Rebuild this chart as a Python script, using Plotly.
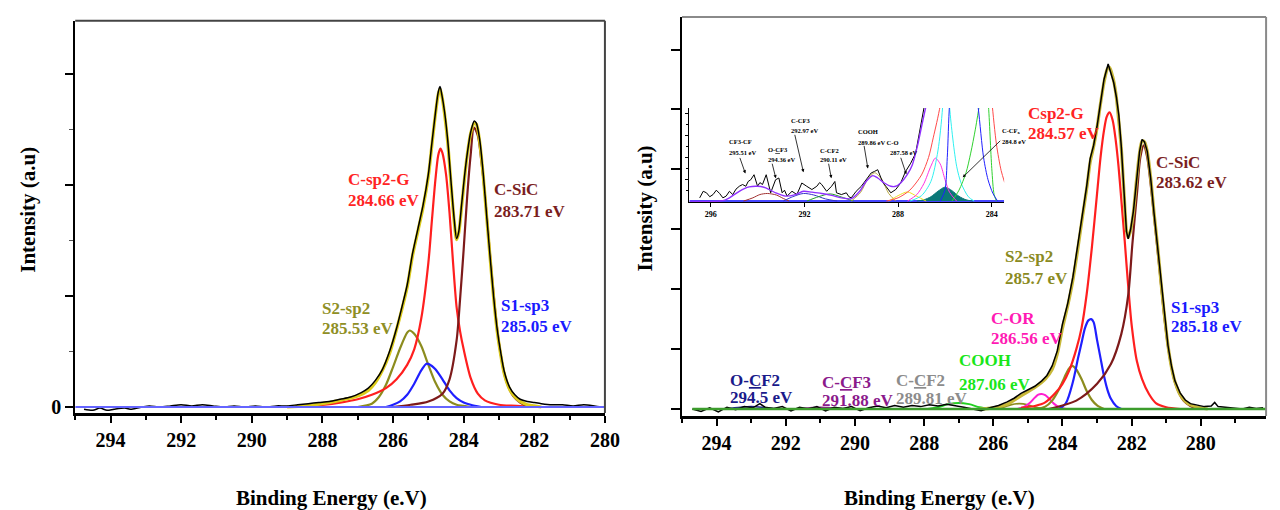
import plotly.graph_objects as go

W, H = 1280, 510
FONT = "Liberation Serif"

# ================= LEFT PANEL (units: 1 = one y tick) =================
L_DATA_X = [294.75, 294.5, 294.3, 294.1, 293.9, 293.6, 293.4, 293.1, 292.9, 292.6, 292.3, 292.0, 291.7,
            291.4, 291.1, 290.8, 290.5, 290.2, 289.9, 289.6, 289.3, 289.0, 288.7, 288.4, 288.1, 287.8,
            287.5, 287.2, 286.9, 286.7, 286.5, 286.3, 286.1, 285.9, 285.75, 285.6, 285.45, 285.3, 285.15,
            285.0, 284.9, 284.8, 284.72, 284.67, 284.62, 284.54, 284.45, 284.35, 284.27, 284.2, 284.14,
            284.06, 283.98, 283.9, 283.8, 283.7, 283.64, 283.55, 283.45, 283.35, 283.25, 283.15, 283.05,
            282.95, 282.85, 282.7, 282.55, 282.4, 282.2, 282.0, 281.8, 281.5, 281.2, 280.9, 280.6, 280.3, 280.1]
L_DATA_Y = [-0.02, -0.03, -0.01, -0.03, -0.02, -0.01, -0.02, 0.0, 0.01, 0.0, 0.01, 0.02, 0.01,
            0.02, 0.01, 0.0, 0.01, 0.0, 0.01, 0.0, 0.01, 0.01, 0.02, 0.03, 0.04, 0.05,
            0.07, 0.09, 0.13, 0.17, 0.24, 0.34, 0.5, 0.71, 0.9, 1.1, 1.38, 1.6, 1.82,
            2.1, 2.38, 2.65, 2.84, 2.89, 2.82, 2.66, 2.4, 2.0, 1.7, 1.52, 1.58,
            1.82, 2.07, 2.28, 2.48, 2.58, 2.56, 2.42, 2.12, 1.73, 1.35, 0.99, 0.7,
            0.49, 0.32, 0.18, 0.11, 0.07, 0.05, 0.04, 0.03, 0.02, 0.02, 0.01, 0.02, 0.01, 0.0]

L_ENV_X = [289.0, 288.5, 288.0, 287.5, 287.0, 286.7, 286.5, 286.3, 286.1, 285.9, 285.75, 285.6, 285.45,
           285.3, 285.15, 285.0, 284.9, 284.8, 284.72, 284.67, 284.62, 284.54, 284.45, 284.35, 284.27,
           284.2, 284.14, 284.06, 283.98, 283.9, 283.8, 283.7, 283.64, 283.55, 283.45, 283.35, 283.25,
           283.15, 283.05, 282.95, 282.85, 282.7, 282.55, 282.4, 282.2, 282.0, 281.8]
L_ENV_Y = [0.0, 0.01, 0.03, 0.06, 0.1, 0.15, 0.22, 0.33, 0.48, 0.7, 0.88, 1.08, 1.36,
           1.58, 1.8, 2.08, 2.36, 2.64, 2.82, 2.87, 2.81, 2.64, 2.38, 1.98, 1.68,
           1.51, 1.57, 1.8, 2.05, 2.27, 2.47, 2.56, 2.55, 2.4, 2.1, 1.72, 1.34,
           0.98, 0.68, 0.47, 0.3, 0.16, 0.09, 0.05, 0.02, 0.01, 0.0]

L_CSP2G_X = [288.8, 288.0, 287.5, 287.0, 286.6, 286.2, 285.9, 285.6, 285.4, 285.2, 285.0, 284.9, 284.8,
             284.72, 284.66, 284.6, 284.5, 284.4, 284.3, 284.2, 284.1, 284.0, 283.8, 283.6, 283.4, 283.0,
             282.5, 282.0]
L_CSP2G_Y = [0.0, 0.02, 0.04, 0.07, 0.11, 0.17, 0.25, 0.38, 0.52, 0.8, 1.3, 1.68, 2.05,
             2.27, 2.33, 2.29, 2.1, 1.75, 1.3, 0.9, 0.68, 0.52, 0.26, 0.12, 0.06, 0.02,
             0.01, 0.0]

L_CSIC_X = [286.0, 285.5, 285.0, 284.6, 284.4, 284.2, 284.1, 284.0, 283.9, 283.8, 283.71, 283.6, 283.5,
            283.4, 283.3, 283.2, 283.1, 283.0, 282.9, 282.8, 282.6, 282.4, 282.2, 282.0]
L_CSIC_Y = [0.0, 0.02, 0.05, 0.12, 0.25, 0.6, 0.98, 1.42, 1.9, 2.28, 2.52, 2.45, 2.22,
            1.92, 1.55, 1.18, 0.85, 0.58, 0.38, 0.24, 0.1, 0.04, 0.01, 0.0]

L_S2SP2_X = [287.0, 286.6, 286.4, 286.2, 286.0, 285.8, 285.6, 285.53, 285.4, 285.2, 285.0, 284.8, 284.6,
             284.4, 284.2, 284.0, 283.8]
L_S2SP2_Y = [0.0, 0.03, 0.09, 0.2, 0.36, 0.53, 0.67, 0.69, 0.66, 0.55, 0.38, 0.22, 0.11,
             0.05, 0.02, 0.01, 0.0]

L_S1SP3_X = [286.2, 286.0, 285.8, 285.6, 285.4, 285.2, 285.05, 284.9, 284.8, 284.6, 284.4, 284.2, 284.0,
             283.8, 283.5]
L_S1SP3_Y = [0.0, 0.02, 0.05, 0.11, 0.21, 0.33, 0.39, 0.37, 0.34, 0.25, 0.15, 0.08, 0.04,
             0.02, 0.0]

L_BASE_X = [295.0, 280.0]
L_BASE_Y = [0.0, 0.0]
L_BG_X = [287.2, 282.2]
L_BG_Y = [0.0, 0.0]

L_TICKS = [294, 292, 290, 288, 286, 284, 282, 280]

# ================= RIGHT PANEL =================
R_DATA_X = [294.7, 294.45, 294.2, 293.95, 293.7, 293.45, 293.2, 292.95, 292.75, 292.6, 292.35, 292.1,
            291.85, 291.6, 291.35, 291.1, 290.85, 290.6, 290.35, 290.1, 289.85, 289.6, 289.35, 289.1,
            288.85, 288.6, 288.35, 288.1, 287.85, 287.6, 287.35, 287.1, 286.85, 286.6, 286.35, 286.1,
            285.85, 285.6, 285.4, 285.2, 285.0, 284.8, 284.6, 284.45, 284.3, 284.15, 284.0, 283.85,
            283.7, 283.55, 283.42, 283.3, 283.2, 283.1, 283.0, 282.9, 282.8, 282.68, 282.6, 282.52,
            282.44, 282.37, 282.3, 282.22, 282.15, 282.1, 282.03, 281.95, 281.86, 281.77, 281.7, 281.63,
            281.55, 281.45, 281.35, 281.25, 281.15, 281.05, 280.95, 280.85, 280.75, 280.6, 280.45, 280.3,
            280.1, 279.9, 279.7, 279.6, 279.5, 279.3, 279.0, 278.8, 278.6, 278.4, 278.2]
R_DATA_Y = [0.0, -0.04, 0.02, -0.05, 0.03, -0.01, 0.04, 0.02, 0.09, 0.03, 0.01, 0.04,
            -0.03, 0.03, 0.0, 0.04, -0.03, 0.03, 0.01, 0.04, -0.03, 0.02, 0.05, 0.02,
            0.06, 0.03, 0.06, 0.04, 0.07, 0.05, 0.08, 0.06, 0.03, 0.0, -0.03, 0.02,
            0.06, 0.12, 0.18, 0.26, 0.32, 0.38, 0.47, 0.56, 0.72, 0.97, 1.42, 1.76,
            2.2, 2.76, 3.26, 3.72, 4.18, 4.4, 4.72, 5.14, 5.5, 5.76, 5.62, 5.45,
            5.2, 4.9, 4.38, 3.62, 2.96, 2.84, 3.0, 3.3, 3.86, 4.3, 4.5, 4.46,
            4.3, 3.85, 3.25, 2.72, 2.1, 1.55, 1.06, 0.72, 0.47, 0.27, 0.15, 0.09,
            0.06, 0.04, 0.05, 0.11, 0.04, 0.03, 0.02, 0.0, 0.03, 0.01, 0.02]

R_ENV_X = [286.4, 286.0, 285.6, 285.2, 284.8, 284.5, 284.3, 284.15, 284.0, 283.85, 283.7, 283.55, 283.42,
           283.3, 283.2, 283.1, 283.0, 282.9, 282.8, 282.7, 282.64, 282.55, 282.46, 282.38, 282.3, 282.22,
           282.15, 282.1, 282.03, 281.95, 281.86, 281.77, 281.7, 281.63, 281.55, 281.45, 281.35, 281.25,
           281.15, 281.05, 280.95, 280.85, 280.75, 280.6, 280.45, 280.3, 280.1, 279.8]
R_ENV_Y = [0.0, 0.02, 0.08, 0.22, 0.36, 0.5, 0.66, 0.92, 1.35, 1.72, 2.15, 2.7, 3.22,
           3.68, 4.12, 4.38, 4.7, 5.1, 5.45, 5.68, 5.7, 5.55, 5.28, 4.85, 4.35, 3.6,
           2.98, 2.86, 2.98, 3.28, 3.82, 4.28, 4.47, 4.46, 4.3, 3.86, 3.26, 2.72,
           2.1, 1.55, 1.06, 0.7, 0.46, 0.24, 0.13, 0.07, 0.03, 0.0]

R_CSP2G_X = [285.2, 284.8, 284.5, 284.2, 284.0, 283.8, 283.6, 283.45, 283.3, 283.15, 283.0, 282.9, 282.8,
             282.72, 282.64, 282.55, 282.46, 282.38, 282.3, 282.2, 282.1, 282.0, 281.85, 281.7, 281.5,
             281.3, 281.0, 280.6]
R_CSP2G_Y = [0.02, 0.05, 0.11, 0.27, 0.42, 0.65, 1.0, 1.35, 1.92, 2.7, 3.6, 4.2, 4.65,
             4.88, 4.95, 4.82, 4.48, 4.05, 3.5, 2.8, 2.05, 1.4, 0.8, 0.5, 0.25,
             0.1, 0.03, 0.0]

R_CSIC_X = [284.4, 283.6, 283.0, 282.6, 282.3, 282.1, 281.98, 281.84, 281.75, 281.65, 281.55, 281.45,
            281.35, 281.2, 281.05, 280.93, 280.75, 280.5, 280.3, 280.1]
R_CSIC_Y = [0.0, 0.14, 0.42, 0.75, 1.25, 1.9, 2.75, 3.64, 4.2, 4.4, 4.2, 3.75,
            3.2, 2.36, 1.5, 0.97, 0.45, 0.14, 0.05, 0.0]

R_S1SP3_X = [284.1, 283.9, 283.7, 283.55, 283.45, 283.35, 283.25, 283.17, 283.1, 283.0, 282.9, 282.8,
             282.7, 282.6, 282.45, 282.3]
R_S1SP3_Y = [0.0, 0.1, 0.45, 0.85, 1.1, 1.35, 1.48, 1.5, 1.45, 1.15, 0.85, 0.55,
             0.32, 0.17, 0.05, 0.0]

R_S2SP2_X = [284.8, 284.5, 284.3, 284.1, 283.95, 283.82, 283.72, 283.6, 283.45, 283.3, 283.15, 283.0, 282.8]
R_S2SP2_Y = [0.0, 0.04, 0.14, 0.33, 0.52, 0.67, 0.72, 0.66, 0.5, 0.3, 0.15, 0.06, 0.0]

R_COR_X = [285.3, 285.1, 284.95, 284.8, 284.7, 284.6, 284.5, 284.4, 284.25, 284.1, 283.9]
R_COR_Y = [0.0, 0.04, 0.1, 0.19, 0.24, 0.25, 0.23, 0.18, 0.09, 0.03, 0.0]

R_SMALL_X = [286.0, 285.7, 285.5, 285.25, 285.0, 284.8, 284.5]
R_SMALL_Y = [0.0, 0.03, 0.07, 0.09, 0.07, 0.03, 0.0]

R_COOH_X = [287.9, 287.6, 287.3, 287.0, 286.7, 286.4, 286.1]
R_COOH_Y = [0.0, 0.03, 0.08, 0.1, 0.08, 0.03, 0.0]

R_OCF2_X = [293.8, 293.3, 293.0, 292.7, 292.2]
R_OCF2_Y = [0.0, 0.03, 0.04, 0.03, 0.0]
R_CCF3_X = [291.8, 291.3, 291.0, 290.7, 290.2]
R_CCF3_Y = [0.0, 0.02, 0.03, 0.02, 0.0]

R_BASE_X = [294.7, 278.1]
R_BASE_Y = [0.0, 0.0]

R_TICKS = [294, 292, 290, 288, 286, 284, 282, 280]

# ================= INSET =================
I_DATA_X = [296.47, 296.32, 296.18, 296.04, 295.90, 295.76, 295.62, 295.48, 295.34, 295.2, 295.06, 294.92,
            294.78, 294.64, 294.5, 294.4, 294.29, 294.15, 294.0, 293.9, 293.79, 293.63, 293.44, 293.33,
            293.23, 293.09, 292.95, 292.85, 292.74, 292.53, 292.32, 292.2, 292.11, 291.9, 291.68, 291.47,
            291.35, 291.26, 291.05, 290.84, 290.7, 290.63, 290.42, 290.21, 290.1, 290.0, 289.79, 289.57,
            289.36, 289.15, 289.01, 288.87, 288.73, 288.62, 288.52, 288.31, 288.1, 287.89, 287.68, 287.46,
            287.25, 287.04, 286.83, 286.6]
I_DATA_Y = [0.15, 0.45, 0.38, 0.2, 0.30, 0.5, 0.35, 0.15, 0.23, 0.45, 0.30, 0.55,
            0.68, 0.76, 0.68, 0.9, 0.98, 1.21, 0.68, 0.85, 0.76, 1.21, 0.38, 0.75,
            0.98, 1.06, 0.38, 0.5, 0.23, 0.45, 0.30, 0.6, 0.83, 0.68, 0.53, 0.68,
            0.85, 0.76, 0.45, 0.68, 0.9, 0.38, 0.30, 0.38, 0.2, 0.15, 0.45, 0.68,
            0.98, 1.29, 1.36, 1.44, 1.06, 0.8, 0.68, 0.38, 0.53, 0.83, 1.36, 1.74,
            2.20, 3.56, 4.6, 6.0]

I_ENV_X = [296.89, 295.48, 295.2, 294.78, 294.36, 294.0, 293.65, 293.23, 292.81, 292.39, 292.04, 291.68,
           291.26, 290.84, 290.42, 290.0, 289.64, 289.36, 289.08, 288.87, 288.59, 288.31, 288.1, 287.89,
           287.61, 287.39, 287.18, 286.97, 286.76]
I_ENV_Y = [0.0, 0.02, 0.15, 0.45, 0.65, 0.68, 0.61, 0.38, 0.23, 0.30, 0.45, 0.41,
           0.35, 0.26, 0.15, 0.11, 0.45, 0.91, 1.17, 1.06, 0.83, 0.68, 0.68, 0.83,
           1.21, 1.67, 2.50, 3.56, 4.6]

I_CF3CF_X = [294.6, 294.2, 293.9, 293.58, 293.2, 292.9, 292.65]
I_CF3CF_Y = [0.0, 0.15, 0.3, 0.35, 0.28, 0.12, 0.0]
I_CCF3_X = [292.9, 292.5, 292.04, 291.6, 291.1, 290.6]
I_CCF3_Y = [0.0, 0.2, 0.35, 0.28, 0.1, 0.0]
I_CCF2_X = [291.9, 291.4, 290.9, 290.4, 289.9]
I_CCF2_Y = [0.0, 0.2, 0.33, 0.18, 0.0]
I_COOH_X = [290.0, 289.6, 289.3, 289.0, 288.7, 288.4, 288.1]
I_COOH_Y = [0.0, 0.4, 1.0, 1.3, 1.0, 0.35, 0.0]
I_CO_X = [288.4, 288.0, 287.6, 287.2, 286.8]
I_CO_Y = [0.0, 0.25, 0.42, 0.22, 0.0]
I_CSP2_X = [288.5, 288.0, 287.5, 287.0, 286.7, 286.5, 286.2, 285.8, 285.0, 284.3, 284.0, 283.8, 283.6, 283.45]
I_CSP2_Y = [0.0, 0.15, 0.5, 1.2, 2.0, 2.9, 4.4, 8.0, 20.0, 8.0, 4.6, 2.6, 1.4, 0.85]
I_COR_X = [287.6, 287.2, 286.9, 286.6, 286.41, 286.2, 286.0, 285.8, 285.5]
I_COR_Y = [0.0, 0.3, 0.8, 1.6, 1.97, 1.7, 1.0, 0.4, 0.0]
I_CYAN_X = [287.5, 287.0, 286.6, 286.3, 286.1, 285.95, 285.8, 285.5, 285.3, 285.0, 284.75]
I_CYAN_Y = [0.0, 0.25, 0.9, 2.3, 4.3, 8.0, 4.3, 1.6, 0.8, 0.2, 0.0]
I_GREEN_X = [285.7, 285.4, 285.1, 284.9, 284.7, 284.5, 284.3, 284.15, 284.0, 283.9, 283.8]
I_GREEN_Y = [0.0, 0.5, 1.3, 2.2, 3.3, 4.6, 6.0, 4.5, 1.5, 0.3, 0.0]
I_BLUE_X = [286.2, 286.0, 285.9, 285.8, 285.5, 285.2, 284.9, 284.58, 284.35, 284.16, 283.95, 283.75]
I_BLUE_Y = [0.0, 0.5, 2.0, 4.5, 8.0, 9.0, 7.0, 4.3, 2.0, 0.98, 0.35, 0.0]
I_CCFX_X = [287.2, 286.9, 286.6, 286.3, 286.0, 285.7, 285.4, 285.1, 284.8]
I_CCFX_Y = [0.0, 0.06, 0.2, 0.45, 0.64, 0.48, 0.22, 0.06, 0.0]
I_BASE_X = [296.9, 283.47]
I_BASE_Y = [0.0, 0.0]
I_TICKS = [296, 292, 288, 284]

# inset arrow heads (data coords of the inset) for each label
I_ARROW_X = [294.52, 293.22, 292.04, 290.85, 289.29, 287.65, 285.24]
I_ARROW_Y = [1.27, 1.05, 1.32, 1.05, 1.5, 1.23, 1.09]

# ---------------- sanity ----------------
for a, b in [(L_DATA_X, L_DATA_Y), (L_ENV_X, L_ENV_Y), (L_CSP2G_X, L_CSP2G_Y), (L_CSIC_X, L_CSIC_Y),
             (L_S2SP2_X, L_S2SP2_Y), (L_S1SP3_X, L_S1SP3_Y), (R_DATA_X, R_DATA_Y), (R_ENV_X, R_ENV_Y),
             (R_CSP2G_X, R_CSP2G_Y), (R_CSIC_X, R_CSIC_Y), (R_S1SP3_X, R_S1SP3_Y), (R_S2SP2_X, R_S2SP2_Y),
             (R_COR_X, R_COR_Y), (R_SMALL_X, R_SMALL_Y), (R_COOH_X, R_COOH_Y), (I_DATA_X, I_DATA_Y),
             (I_ENV_X, I_ENV_Y), (I_CSP2_X, I_CSP2_Y), (I_COR_X, I_COR_Y), (I_CYAN_X, I_CYAN_Y),
             (I_GREEN_X, I_GREEN_Y), (I_BLUE_X, I_BLUE_Y), (I_CCFX_X, I_CCFX_Y)]:
    assert len(a) == len(b), (len(a), len(b))

fig = go.Figure()


def line(x, y, color, width, ax="", shape="spline", fill=None, fillcolor=None):
    fig.add_trace(go.Scatter(
        x=x, y=y, mode="lines", xaxis="x" + ax, yaxis="y" + ax,
        line=dict(color=color, width=width, shape=shape, smoothing=0.8 if shape == "spline" else None),
        fill=fill, fillcolor=fillcolor, hoverinfo="skip", showlegend=False))


RED = "#ff1f1f"
DRED = "#7d1a1a"
OLIVE = "#8c8c1e"
BLUE = "#1f1fff"
ENV = "#dccb1c"

# left panel
line(L_BG_X, L_BG_Y, "#ff40ff", 1.5, shape="linear")
line(L_S2SP2_X, L_S2SP2_Y, OLIVE, 2.2)
line(L_S1SP3_X, L_S1SP3_Y, BLUE, 2.2)
line(L_CSP2G_X, L_CSP2G_Y, RED, 2.2)
line(L_CSIC_X, L_CSIC_Y, DRED, 2.2)
line(L_ENV_X, L_ENV_Y, ENV, 3.2)
line(L_DATA_X, L_DATA_Y, "black", 1.5)
line(L_BASE_X, L_BASE_Y, "#6464ff", 1.8, shape="linear")

# right panel
line(R_OCF2_X, R_OCF2_Y, "#1a1a8c", 1.5, ax="2")
line(R_CCF3_X, R_CCF3_Y, "#8b1a8b", 1.5, ax="2")
line(R_SMALL_X, R_SMALL_Y, OLIVE, 1.8, ax="2")
line(R_COOH_X, R_COOH_Y, "#22d022", 1.8, ax="2")
line(R_COR_X, R_COR_Y, "#ff1fd0", 2.0, ax="2")
line(R_S2SP2_X, R_S2SP2_Y, OLIVE, 2.2, ax="2")
line(R_S1SP3_X, R_S1SP3_Y, BLUE, 2.2, ax="2")
line(R_CSP2G_X, R_CSP2G_Y, RED, 2.2, ax="2")
line(R_CSIC_X, R_CSIC_Y, DRED, 2.2, ax="2")
line(R_ENV_X, R_ENV_Y, "#c8b838", 3.2, ax="2")
line(R_DATA_X, R_DATA_Y, "black", 1.5, ax="2", shape="linear")
line(R_BASE_X, R_BASE_Y, "#3c9c2c", 2.6, ax="2", shape="linear")

# inset
line(I_BASE_X, I_BASE_Y, "#4646ff", 2.0, ax="3", shape="linear")
line(I_CCFX_X, I_CCFX_Y, "#0a7878", 1.0, ax="3", fill="tozeroy", fillcolor="#0a7878")
line(I_CF3CF_X, I_CF3CF_Y, "#a03030", 1.0, ax="3")
line(I_CCF3_X, I_CCF3_Y, "#3535c8", 1.0, ax="3")
line(I_CCF2_X, I_CCF2_Y, "#22a022", 1.0, ax="3")
line(I_COOH_X, I_COOH_Y, "#b8a640", 1.0, ax="3")
line(I_CO_X, I_CO_Y, "#f0e020", 1.0, ax="3")
line(I_CSP2_X, I_CSP2_Y, "#ff4a4a", 1.0, ax="3")
line(I_COR_X, I_COR_Y, "#ff30e0", 1.0, ax="3")
line(I_CYAN_X, I_CYAN_Y, "#30f0f0", 1.0, ax="3")
line(I_GREEN_X, I_GREEN_Y, "#30d030", 1.0, ax="3")
line(I_BLUE_X, I_BLUE_Y, "#2020ff", 1.0, ax="3")
line(I_DATA_X, I_DATA_Y, "black", 1.0, ax="3", shape="linear")
line(I_ENV_X, I_ENV_Y, "#9030ff", 1.4, ax="3")

TICKFONT = dict(family=FONT, size=20, color="black")


def xax(domain, rng, anchor, ticks):
    return dict(domain=domain, range=rng, anchor=anchor, tickmode="array", tickvals=ticks,
                ticktext=["<b>%d</b>" % t for t in ticks],
                ticks="outside", ticklen=7, tickwidth=1.5, tickcolor="black",
                minor=dict(tickmode="linear", tick0=0, dtick=1, ticks="outside", ticklen=4,
                           tickwidth=1.5, tickcolor="black"),
                showline=True, linewidth=3, linecolor="black", showgrid=False, zeroline=False,
                tickfont=TICKFONT, ticklabelstandoff=0)


layout = dict(
    width=W, height=H, margin=dict(l=0, r=0, t=0, b=0),
    paper_bgcolor="white", plot_bgcolor="white",
    xaxis=xax([68 / W, 604 / W], [295, 280], "y", L_TICKS),
    xaxis2=xax([682 / W, 1273 / W], [295, 278.114], "y2", R_TICKS),
    yaxis=dict(domain=[1 - 409 / H, 1 - 13 / H], range=[-0.054, 3.482], anchor="x",
               tickmode="array", tickvals=[0, 1, 2, 3], ticktext=["<b>0</b>", "", "", ""],
               ticks="outside", ticklen=8, tickwidth=1.5, tickcolor="black",
               minor=dict(tickmode="array", tickvals=[0.5, 1.5, 2.5], ticks="outside", ticklen=4,
                          tickwidth=1, tickcolor="#555"),
               showline=True, linewidth=2, linecolor="black", showgrid=False, zeroline=False,
               tickfont=TICKFONT),
    yaxis2=dict(domain=[1 - 412 / H, 1 - 9 / H], range=[-0.116, 6.545], anchor="x2",
                tickmode="array", tickvals=[0, 1, 2, 3, 4, 5, 6], showticklabels=False,
                ticks="outside", ticklen=9, tickwidth=1.5, tickcolor="black",
                showline=True, linewidth=2, linecolor="black", showgrid=False, zeroline=False),
    xaxis3=dict(domain=[689 / W, 1008 / W], range=[296.93, 283.47], anchor="y3",
                tickmode="array", tickvals=I_TICKS, ticktext=["<b>%d</b>" % t for t in I_TICKS],
                ticks="outside", ticklen=4,
                tickwidth=1, tickcolor="black", showline=True, linewidth=1, linecolor="black",
                showgrid=False, zeroline=False,
                tickfont=dict(family=FONT, size=8, color="black")),
    yaxis3=dict(domain=[1 - 196 / H, 1 - 101 / H], range=[-0.045, 4.27], anchor="x3",
                tickmode="array", tickvals=[1, 2, 3, 4], showticklabels=False,
                ticks="outside", ticklen=3, tickwidth=1, tickcolor="black",
                minor=dict(tickmode="array", tickvals=[0.5, 1.5, 2.5, 3.5], ticks="outside",
                           ticklen=2, tickwidth=1, tickcolor="black"),
                showline=True, linewidth=1, linecolor="black", showgrid=False, zeroline=False),
)
fig.update_layout(**layout)

# frame lines (top / right)
for xr, yr, col in [("x domain", "y domain", "#444444"), ("x2 domain", "y2 domain", "#8a8a8a")]:
    fig.add_shape(type="line", xref=xr, yref=yr, x0=0, x1=1, y0=1, y1=1, line=dict(color=col, width=2))
    fig.add_shape(type="line", xref=xr, yref=yr, x0=1, x1=1, y0=0, y1=1, line=dict(color=col, width=2))


def txt(text, px, py, color, size=17, xanchor="left", angle=0):
    fig.add_annotation(text="<b>" + text + "</b>", x=px / W, y=1 - py / H, xref="paper", yref="paper",
                       xanchor=xanchor, yanchor="middle", showarrow=False, textangle=angle,
                       font=dict(family=FONT, size=size, color=color))


# axis titles
txt("Intensity (a.u)", 20, 204, "black", size=21, xanchor="center", angle=-90)
txt("Intensity (a.u)", 645, 202, "black", size=21, xanchor="center", angle=-90)
txt("Binding Energy (e.V)", 327, 495, "black", size=21, xanchor="center")
txt("Binding Energy (e.V)", 943, 495, "black", size=21, xanchor="center")

# left labels
txt("C-sp2-G", 342, 173, "#ff2424")
txt("284.66 eV", 342, 194, "#ff2424")
txt("C-SiC", 490, 183, "#7b1e1e")
txt("283.71 eV", 490, 206, "#7b1e1e")
txt("S2-sp2", 316, 303, "#8f8f25")
txt("285.53 eV", 316, 324, "#8f8f25")
txt("S1-sp3", 497, 300, "#1a1aff")
txt("285.05 eV", 497, 322, "#1a1aff")

# right labels
txt("Csp2-G", 1030, 107, "#ff2424")
txt("284.57 eV", 1030, 127, "#ff2424")
txt("C-SiC", 1160, 156, "#7b1e1e")
txt("283.62 eV", 1160, 176, "#7b1e1e")
txt("S2-sp2", 1007, 251, "#8a8a22")
txt("285.7 eV", 1007, 273, "#8a8a22")
txt("S1-sp3", 1175, 302, "#1a1aff")
txt("285.18 eV", 1175, 322, "#1a1aff")
txt("C-OR", 993, 314, "#ff1ab4")
txt("286.56 eV", 993, 334, "#ff1ab4")
txt("COOH", 960, 356, "#19e619")
txt("287.06 eV", 960, 380, "#19e619")
txt("C-<u>C</u>F2", 896, 376, "#8c8c8c")
txt("289.81 eV", 896, 394, "#8c8c8c")
txt("C-<u>C</u>F3", 822, 378, "#8b1a8b")
txt("291.88 eV", 822, 396, "#8b1a8b")
txt("O-<u>C</u>F2", 729, 376, "#1a1a8a")
txt("294.5 eV", 729, 393, "#1a1a8a")

# inset labels
ISZ = 6.5
txt("CF3-CF", 728, 135, "black", size=ISZ)
txt("295.51 eV", 728, 146, "black", size=ISZ)
txt("O-<u>C</u>F3", 767, 143, "black", size=ISZ)
txt("294.36 eV", 767, 153, "black", size=ISZ)
txt("C-CF3", 790, 114, "black", size=ISZ)
txt("292.97 eV", 790, 124, "black", size=ISZ)
txt("C-CF2", 820, 144, "black", size=ISZ)
txt("290.11 eV", 820, 153, "black", size=ISZ)
txt("COOH", 858, 125, "black", size=ISZ)
txt("289.86 eV C-O", 858, 136, "black", size=ISZ)
txt("287.58 eV", 890, 146, "black", size=ISZ)
txt("C-CF<sub>x</sub>", 1004, 124, "black", size=ISZ)
txt("284.8 eV", 1004, 135, "black", size=ISZ)

# inset arrows (tail offsets in pixels)
OFFS = [(-6, -17), (-4, -16), (-9, -39), (-3, -16), (-4, -24), (-6, -18), (39, -38)]
for xh, yh, (dx, dy) in zip(I_ARROW_X, I_ARROW_Y, OFFS):
    fig.add_annotation(x=xh, y=yh, xref="x3", yref="y3", ax=dx, ay=dy, text="", showarrow=True,
                       arrowhead=2, arrowsize=0.8, arrowwidth=0.8, arrowcolor="black")

fig.write_html("out.html")
